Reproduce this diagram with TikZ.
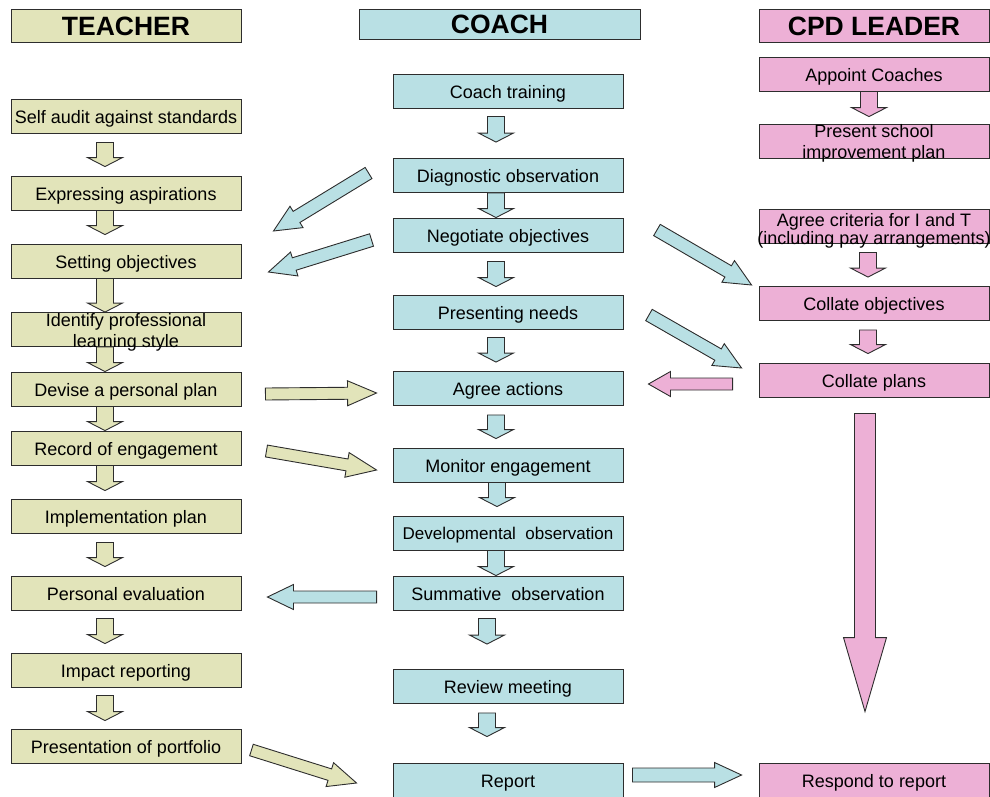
\documentclass[tikz,border=0pt]{standalone}
\usepackage{fontspec}
\setmainfont{Liberation Sans}
\usetikzlibrary{calc}
\definecolor{linegray}{RGB}{45,45,45}
\definecolor{teachfill}{RGB}{226,228,186}
\definecolor{coachfill}{RGB}{185,224,228}
\definecolor{leadfill}{RGB}{237,176,214}
% block arrow: style, tail, tip, shaft half width, head half width, head length
\newcommand{\blockarr}[6]{%
  \draw[#1] let \p1=(#2), \p2=(#3),
      \n1={veclen(\x2-\x1,\y2-\y1)},
      \n2={(\x2-\x1)/\n1}, \n3={(\y2-\y1)/\n1} in
    ({\x1-#4*\n3},{\y1+#4*\n2})
    -- ({\x2-#6*\n2-#4*\n3},{\y2-#6*\n3+#4*\n2})
    -- ({\x2-#6*\n2-#5*\n3},{\y2-#6*\n3+#5*\n2})
    -- (\p2)
    -- ({\x2-#6*\n2+#5*\n3},{\y2-#6*\n3-#5*\n2})
    -- ({\x2-#6*\n2+#4*\n3},{\y2-#6*\n3-#4*\n2})
    -- ({\x1+#4*\n3},{\y1-#4*\n2}) -- cycle;}
\tikzset{
  block/.style={
    draw=linegray,
    line width=0.9pt,
    rectangle,
    minimum width=230pt,
    minimum height=34pt,
    inner sep=0pt,
    text height=14.6pt,
    text depth=0pt,
    align=center,
    font=\fontsize{18}{21}\selectfont
  },
  head/.style={block, minimum height=33pt, text height=19pt,
    font=\fontsize{26.5}{30}\selectfont\bfseries},
  tbox/.style={block, fill=teachfill},
  cbox/.style={block, fill=coachfill},
  pbox/.style={block, fill=leadfill},
  spilltext/.style={inner sep=0pt, align=center, font=\fontsize{18}{21}\selectfont},
  spill/.style={label={[spilltext, yshift=-2.5pt]center:#1}},
  tarr/.style={draw=linegray, line width=0.9pt, fill=teachfill},
  carr/.style={draw=linegray, line width=0.9pt, fill=coachfill},
  parr/.style={draw=linegray, line width=0.9pt, fill=leadfill}
}
\begin{document}
\begin{tikzpicture}[x=1pt, y=-1pt]
\useasboundingbox (0,0) rectangle (990,796);

% Column headings
\node[head, fill=teachfill] (hteach) at (126,25.5) {TEACHER};
\node[head, fill=coachfill, minimum width=281pt, minimum height=30pt] (hcoach) at (499.5,24) {COACH};
\node[head, fill=leadfill] (hlead) at (874,25.5) {CPD LEADER};

% Teacher steps
\foreach \n/\y/\t in {s1/116/Self audit against standards, s2/193/Expressing aspirations,
    s3/261/Setting objectives, s5/389/Devise a personal plan, s6/448/Record of engagement,
    s7/516/Implementation plan, s8/593/Personal evaluation, s9/670/Impact reporting,
    s10/746/Presentation of portfolio}
  \node[tbox] (\n) at (126,\y) {\t};
\node[tbox, spill={Identify professional\\learning style}] (s4) at (126,329.5) {};

% Coach steps
\foreach \n/\y/\t in {c1/91/Coach training, c2/175.5/Diagnostic observation,
    c3/235/Negotiate objectives, c4/312/Presenting needs, c5/388.5/Agree actions,
    c6/465/Monitor engagement, c8/593/Summative~ observation, c9/686.5/Review meeting,
    c10/780/Report}
  \node[cbox] (\n) at (508,\y) {\t};
\node[cbox, text height=13.8pt, font=\fontsize{17}{20}\selectfont] (c7) at (508,533) {Developmental~ observation};

% CPD leader steps
\node[pbox] (p1) at (874,74) {Appoint Coaches};
\node[pbox, spill={Present school\\improvement plan}] (p2) at (874,141) {};
\node[pbox, label={[spilltext, font=\fontsize{18}{17.5}\selectfont, yshift=-5pt]center:Agree criteria for I and T\\(including pay arrangements)}] (p3) at (874,226) {};
\node[pbox] (p4) at (874,303.5) {Collate objectives};
\node[pbox] (p5) at (874,380) {Collate plans};
\node[pbox] (p6) at (874,780) {Respond to report};

% Down arrows in each column
\foreach \a/\b/\gt/\gb in {s1/s2/9/9, s2/s3/0/9, s3/s4/0/0, s4/s5/0/0, s5/s6/0/0,
    s6/s7/0/8, s7/s8/9/9, s8/s9/8/9, s9/s10/8/8}
  {\blockarr{tarr}{$(\a.south)+(-21,\gt)$}{$(\b.north)+(-21,-\gb)$}{8.5}{17.5}{9}}

\foreach \a/\b/\dx/\gt/\gb in {c1/c2/-12/8/16, c2/c3/-12/0/0, c3/c4/-12/9/8, c4/c5/-12/8/9,
    c5/c6/-12/9/9, c6/c7/-11/0/9, c7/c8/-12/0/0, c8/c9/-21/8/25, c9/c10/-21/9/26}
  {\blockarr{carr}{$(\a.south)+(\dx,\gt)$}{$(\b.north)+(\dx,-\gb)$}{8.5}{17.5}{9}}

\foreach \a/\b/\dx/\gt/\gb in {p1/p2/-5/0/7, p3/p4/-6/9/9, p4/p5/-6/9/9}
  {\blockarr{parr}{$(\a.south)+(\dx,\gt)$}{$(\b.north)+(\dx,-\gb)$}{8.5}{17.5}{9}}

\blockarr{parr}{$(p5.south)+(-9,16)$}{$(p6.north)+(-9,-51)$}{10.5}{21.5}{74}

% Arrows between columns
\blockarr{carr}{$(c2.west)+(-24,-2.5)$}{$(s2.east)+(32,38)$}{6.5}{12.5}{27}
\blockarr{carr}{$(c3.west)+(-21,5)$}{$(s3.east)+(27,11)$}{6.5}{12.5}{27}
\blockarr{carr}{$(c3.east)+(33.5,-5)$}{$(p4.west)+(-7,-18.5)$}{6.5}{12.5}{27}
\blockarr{carr}{$(c4.east)+(25.5,3)$}{$(p5.west)+(-17,-12)$}{6.5}{12.5}{27}
\blockarr{parr}{$(p5.west)+(-26,4)$}{$(c5.east)+(25,-4.5)$}{6}{12.5}{22}
\blockarr{tarr}{$(s5.east)+(24,5)$}{$(c5.west)+(-16,4.5)$}{6}{12.5}{29}
\blockarr{tarr}{$(s6.east)+(25,3)$}{$(c6.west)+(-16,5)$}{6}{12.5}{30}
\blockarr{carr}{$(c8.west)+(-16,4)$}{$(s8.east)+(26,4)$}{6}{12.5}{26}
\blockarr{tarr}{$(s10.east)+(10,4)$}{$(c10.west)+(-36,3)$}{6}{12.5}{28}
\blockarr{carr}{$(c10.east)+(9,-5)$}{$(p6.west)+(-17,-5)$}{7}{12.5}{27}

\end{tikzpicture}
\end{document}
